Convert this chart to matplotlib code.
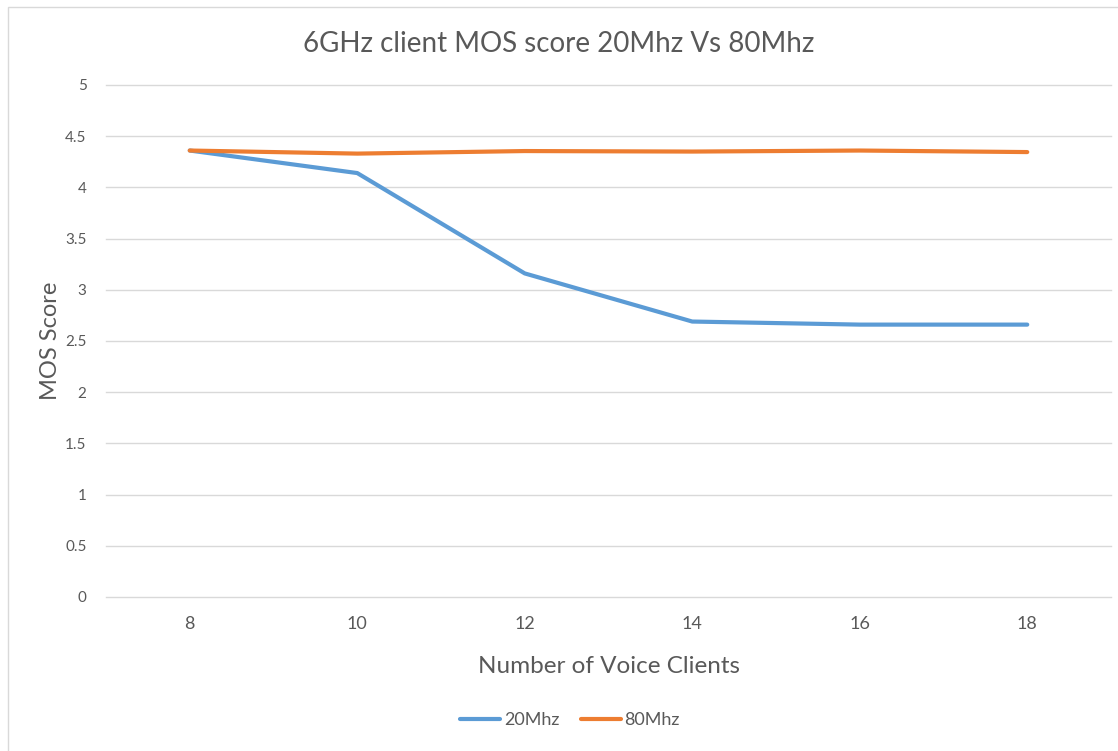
import matplotlib
matplotlib.use("Agg")
import matplotlib.pyplot as plt
from matplotlib.patches import Rectangle

clients = [8, 10, 12, 14, 16, 18]
mos_20 = [4.36, 4.14, 3.16, 2.69, 2.66, 2.66]
mos_80 = [4.36, 4.33, 4.355, 4.35, 4.36, 4.345]
yticks = [0, 0.5, 1, 1.5, 2, 2.5, 3, 3.5, 4, 4.5, 5]

plt.rcParams['font.family'] = ['Lato', 'DejaVu Sans']
txt = '#595959'

fig = plt.figure(figsize=(11.18, 7.51), dpi=100)
W, H = 1118, 751
ax = fig.add_axes([106 / W, 1 - 597 / H, (1111 - 106) / W, (597 - 85) / H])

pos = list(range(len(clients)))
ax.plot(pos, mos_20, color='#5B9BD5', lw=3, solid_capstyle='round', label='20Mhz', zorder=3)
ax.plot(pos, mos_80, color='#ED7D31', lw=3, solid_capstyle='round', label='80Mhz', zorder=3)

ax.set_xlim(-0.5, len(clients) - 0.5)
ax.set_ylim(0, 5)
ax.set_yticks(yticks)
ax.set_yticklabels([f'{v:g}' for v in yticks])
ax.set_xticks(pos)
ax.set_xticklabels([str(c) for c in clients])
ax.grid(axis='y', color='#d9d9d9', lw=1)
for gl in ax.get_ygridlines():
    gl.set_clip_on(False)
ax.set_axisbelow(True)
for s in ax.spines.values():
    s.set_visible(False)
ax.tick_params(axis='both', length=0, colors=txt)
ax.tick_params(axis='y', labelsize=11, pad=14)
ax.tick_params(axis='x', labelsize=13, pad=14)
ax.set_xlabel('Number of Voice Clients', fontsize=17.5, color=txt, labelpad=17)
ax.set_ylabel('MOS Score', fontsize=17, color=txt, labelpad=3)
fig.text(0.5, 1 - 44 / H, '6GHz client MOS score 20Mhz Vs 80Mhz', ha='center', va='center',
         fontsize=20, color=txt)

fig.legend(loc='center', bbox_to_anchor=(570 / W, 1 - 720 / H), ncol=2, frameon=False,
           fontsize=13, labelcolor=txt, handlelength=2.2, handletextpad=0.2, columnspacing=1.2)

fig.patches.append(Rectangle((8 / W, -0.01), 1.2, 1 - 7 / H + 0.01, transform=fig.transFigure,
                             fill=False, edgecolor='#d9d9d9', lw=1))

fig.savefig('out.png', dpi=100, facecolor='white')
